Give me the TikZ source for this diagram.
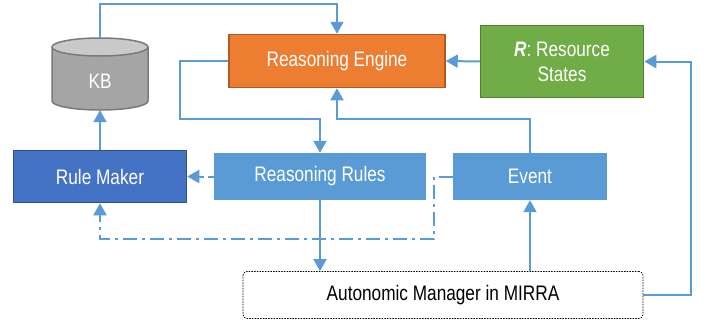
\documentclass[tikz,border=0pt]{standalone}
\usepackage{fontspec}
\setmainfont{Liberation Sans}[FakeStretch=0.82]
\usetikzlibrary{arrows.meta}
\definecolor{lineblue}{HTML}{5B9BD5}
\definecolor{orangef}{HTML}{ED7D31}
\definecolor{oranged}{HTML}{AE5A21}
\definecolor{greenf}{HTML}{70AD47}
\definecolor{greend}{HTML}{507E32}
\definecolor{bluef}{HTML}{4472C4}
\definecolor{blued}{HTML}{2F528F}
\definecolor{kbbody}{HTML}{A5A5A5}
\definecolor{kbtop}{HTML}{C9C9C9}
\definecolor{kbline}{HTML}{7A7A7A}
\begin{document}
\begin{tikzpicture}[x=1pt,y=1pt,
  font=\fontsize{21}{25}\selectfont,
  box/.style={rectangle, inner sep=0pt, text=white, align=center},
  conn/.style={draw=lineblue, line width=2pt, -{Triangle[length=12pt,width=13pt]}},
  plainconn/.style={draw=lineblue, line width=2pt},
  dashconn/.style={conn, dash pattern=on 6pt off 4pt},
  dotdashconn/.style={conn, dash pattern=on 14pt off 5pt on 3pt off 5pt}]
\useasboundingbox (0,0) rectangle (710,-322);

% KB cylinder
\fill[kbbody] (52,-47) -- (52,-101) arc[start angle=180,end angle=360,x radius=48pt,y radius=9pt] -- (148,-47) -- cycle;
\draw[kbline, line width=1.5pt] (52,-47) -- (52,-101) arc[start angle=180,end angle=360,x radius=48pt,y radius=9pt] -- (148,-47);
\draw[kbline, line width=1.5pt, fill=kbtop] (100,-47) ellipse[x radius=48pt, y radius=9pt];
\node[box, minimum width=96pt, minimum height=72pt] (kb) at (100,-74) {};
\node[text=white] (kbtext) at (100,-81) {KB};

\node[box, fill=orangef, draw=oranged, line width=1.5pt, minimum width=216pt, minimum height=53pt] (re) at (337,-61) {Reasoning Engine};
\node[box, fill=greenf, draw=greend, line width=1.5pt, minimum width=163pt, minimum height=72pt] (rs) at (562,-61.5) {\textbf{\textit{R}}: Resource\\States};
\node[box, fill=bluef, draw=blued, line width=1.5pt, minimum width=173pt, minimum height=52pt] (rm) at (100,-176.5) {Rule Maker};
\node[box, fill=lineblue, minimum width=212pt, minimum height=47pt] (rr) at (320,-176.5) {Reasoning Rules};
\node[box, fill=lineblue, minimum width=154pt, minimum height=47pt] (ev) at (530,-176.5) {Event};
\node[rectangle, draw=black, line width=0.7pt, dash pattern=on 1.5pt off 1.2pt, rounded corners=4pt, minimum width=400pt, minimum height=47pt, inner sep=0pt] (am) at (443,-295) {Autonomic Manager in MIRRA};

\coordinate (kbup) at (100,-4);
\coordinate (reup) at (337,-4);
\coordinate (rightc) at (691,-295);
\coordinate (leftc) at (180,-119);
\coordinate (midl) at (320,-119);
\coordinate (midr) at (337,-119);
\coordinate (dd1) at (434,-176.5);
\coordinate (dd2) at (434,-239);
\coordinate (dd3) at (100,-239);

\draw[conn] (kb.north) -- (kbup) -- (reup) -- (re.north);
\draw[conn] (rm.north) -- (kb.south);
\draw[conn] (rs.west) -- (re.east);
\draw[conn] (am.east) -- (rightc) |- (rs.east);
\draw[conn] (re.west) -| (leftc) -- (midl) -- (rr.north);
\draw[conn] (ev.north) |- (midr) -- (re.south);
\draw[dashconn] (rr.west) -- (rm.east);
\draw[dotdashconn] (ev.west) -- (dd1) -- (dd2) -- (dd3) -- (rm.south);
\draw[conn] (rr.south) -- (rr.south |- am.north);
\draw[conn] (ev.south |- am.north) -- (ev.south);
\end{tikzpicture}
\end{document}
